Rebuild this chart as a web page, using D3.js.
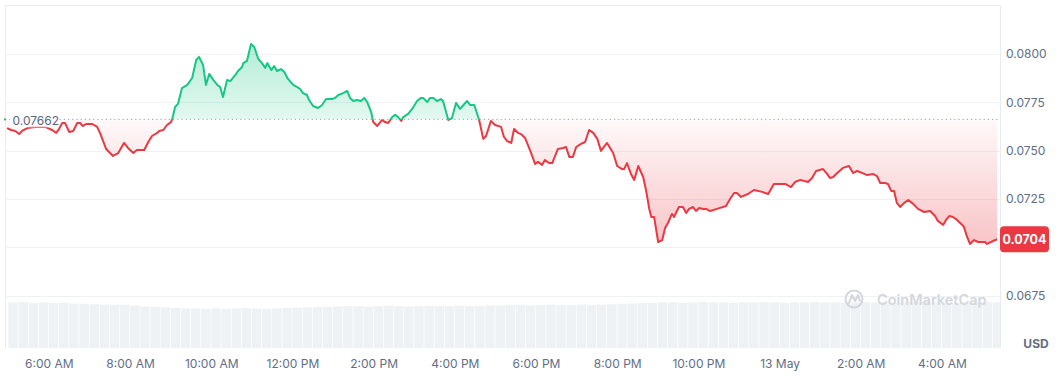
<!DOCTYPE html>
<html><head><meta charset="utf-8">
<script src="https://cdn.jsdelivr.net/npm/d3@7"></script>
<style>
body{margin:0;background:#fff;}
svg{display:block;font-family:Inter,"Noto Sans",sans-serif;}
</style>
</head><body>
<svg id="c" width="1057" height="381"></svg>
<script>
// ---- data (hours since 00:00 on 12 May; prices in USD) ----
const hours = [
 4.97,5.07,5.17,5.27,5.34,5.47,5.66,5.91,6.08,6.18,
 6.25,6.33,6.40,6.50,6.60,6.70,6.77,6.84,6.92,7.07,
 7.19,7.26,7.41,7.58,7.71,7.85,7.95,8.08,8.17,8.35,
 8.45,8.54,8.67,8.72,8.82,8.91,9.01,9.04,9.11,9.18,
 9.28,9.41,9.53,9.63,9.70,9.80,9.87,9.95,10.05,10.15,
 10.22,10.29,10.39,10.47,10.59,10.66,10.76,10.79,10.88,10.98,
 11.06,11.16,11.25,11.33,11.38,11.48,11.55,11.62,11.72,11.80,
 11.89,12.02,12.12,12.19,12.26,12.36,12.41,12.51,12.63,12.73,
 12.83,12.98,13.05,13.13,13.25,13.35,13.42,13.50,13.59,13.69,
 13.77,13.84,13.94,13.99,14.09,14.21,14.28,14.36,14.46,14.53,
 14.60,14.68,14.73,14.85,14.95,15.07,15.17,15.22,15.32,15.39,
 15.47,15.56,15.66,15.71,15.84,15.93,16.03,16.13,16.30,16.38,
 16.48,16.60,16.70,16.77,16.89,16.99,17.14,17.21,17.29,17.39,
 17.46,17.56,17.63,17.73,17.86,17.98,18.05,18.15,18.22,18.32,
 18.40,18.54,18.67,18.74,18.82,18.91,18.99,19.11,19.21,19.31,
 19.41,19.51,19.60,19.75,19.90,20.00,20.12,20.17,20.24,20.34,
 20.42,20.52,20.64,20.71,20.79,20.84,20.91,21.01,21.11,21.18,
 21.25,21.35,21.40,21.52,21.62,21.70,21.77,21.87,21.94,22.02,
 22.12,22.19,22.29,22.46,22.68,22.78,22.88,22.95,23.05,23.22,
 23.37,23.57,23.72,23.86,24.14,24.28,24.38,24.51,24.70,24.80,
 24.90,25.07,25.17,25.24,25.32,25.42,25.56,25.71,25.81,25.91,
 26.03,26.16,26.30,26.40,26.48,26.60,26.67,26.75,26.82,26.89,
 26.97,27.07,27.17,27.29,27.41,27.56,27.71,27.83,27.90,28.03,
 28.10,28.18,28.27,28.37,28.50,28.54,28.62,28.69,28.79,28.89,
 29.06,29.11,29.26,29.36
];
const prices = [
 0.07617,0.07607,0.07602,0.07586,0.07602,0.07617,0.07623,0.07623,0.07607,0.07592,
 0.07612,0.07643,0.07643,0.07597,0.07602,0.07643,0.07643,0.07628,0.07638,0.07638,
 0.07623,0.07592,0.07509,0.07473,0.07488,0.0754,0.07514,0.07488,0.07504,0.07504,
 0.07545,0.07576,0.07592,0.07602,0.07607,0.07633,0.07648,0.07664,0.07726,0.07742,
 0.07824,0.0784,0.07876,0.07969,0.07985,0.07943,0.0784,0.07897,0.07866,0.0784,
 0.07829,0.07778,0.07866,0.0786,0.07891,0.07912,0.07933,0.07953,0.07964,0.08052,
 0.08036,0.07974,0.07953,0.07928,0.07953,0.07917,0.07938,0.07912,0.07922,0.07907,
 0.07871,0.0784,0.07829,0.07819,0.07798,0.07788,0.07762,0.07731,0.07721,0.07736,
 0.07767,0.07767,0.07773,0.07788,0.07798,0.07809,0.07773,0.07757,0.07762,0.07757,
 0.07773,0.07752,0.077,0.07648,0.07628,0.07659,0.07648,0.07643,0.07674,0.07685,
 0.07674,0.07654,0.07674,0.0769,0.07716,0.07757,0.07773,0.07773,0.07752,0.07773,
 0.07773,0.07757,0.07767,0.07757,0.07659,0.07669,0.07747,0.07716,0.07757,0.07736,
 0.07736,0.07659,0.07561,0.07576,0.07654,0.07633,0.07623,0.07571,0.0755,0.0754,
 0.07612,0.07592,0.07586,0.07566,0.07499,0.07431,0.07442,0.07426,0.07452,0.07436,
 0.07436,0.07509,0.07514,0.07519,0.07468,0.07468,0.07519,0.07535,0.07545,0.07607,
 0.07592,0.07561,0.07499,0.0754,0.07488,0.07421,0.07405,0.07405,0.07436,0.0738,
 0.07349,0.07421,0.07364,0.07297,0.07199,0.07157,0.07157,0.07028,0.07038,0.071,
 0.07126,0.07173,0.07157,0.07209,0.07209,0.07178,0.07199,0.07209,0.07188,0.07204,
 0.07199,0.07199,0.07188,0.07199,0.07214,0.0725,0.07281,0.07281,0.07261,0.07276,
 0.07297,0.07287,0.07276,0.07328,0.07328,0.07312,0.07338,0.07349,0.07338,0.07359,
 0.07395,0.07405,0.0738,0.07359,0.07364,0.07385,0.07411,0.07421,0.07385,0.07395,
 0.07385,0.07374,0.0738,0.07369,0.07333,0.07333,0.07328,0.07292,0.07292,0.0723,
 0.07209,0.0723,0.07245,0.07225,0.07199,0.07183,0.07188,0.07162,0.07137,0.07116,
 0.07142,0.07162,0.07157,0.07142,0.07116,0.07106,0.07054,0.07018,0.07038,0.07028,
 0.07028,0.07018,0.07033,0.07042
];
const refPrice = 0.07662;
const refLabel = "0.07662";
const yTicks = [0.0675, 0.07, 0.0725, 0.075, 0.0775, 0.08];
const xTickHours = [6, 8, 10, 12, 14, 16, 18, 20, 22, 24, 26, 28];
const domainHours = [4.92, 29.43];
const volStartHour = 5, volStepHours = 0.25;
const volumes = [
 1.19,1.20,1.18,1.19,1.17,1.18,1.16,1.15,
 1.14,1.13,1.12,1.13,1.11,
 1.08,1.07,1.06,
 1.04,1.03,1.03,1.02,1.03,1.02,1.03,1.04,1.03,1.02,1.03,1.04,1.05,
 1.06,1.07,1.07,
 1.08,1.09,1.09,1.08,1.09,1.10,1.09,1.08,1.09,1.10,1.09,1.09,1.10,1.09,1.10,1.11,
 1.11,1.12,1.12,1.11,1.12,1.13,1.12,1.12,1.13,1.12,1.13,1.14,1.15,1.16,1.17,
 1.18,1.19,1.19,1.18,1.19,1.20,1.19,1.19,1.18,1.19,1.19,1.20,1.19,1.18,1.19,1.19,1.20,
 1.19,1.19,1.18,1.19,1.20,1.19,1.19,1.18,1.19,1.19,1.20,1.19,1.19,1.18,1.19,1.19,1.20,1.19
];
const volMax = 1.25;
const currency = "USD";
const watermark = "CoinMarketCap";

// ---- setup ----
const GREEN = "#16c784", RED = "#ea3943", GRID = "#eff2f5", TXT = "#616e85";
const plot = {l: 5, r: 1000, t: 5, b: 348};
const base = new Date(2024, 4, 12, 0, 0, 0);
const toDate = h => new Date(+base + h * 3600e3);

const svg = d3.select("#c");
const x = d3.scaleTime().domain(domainHours.map(toDate)).range([plot.l, plot.r]);
const y = d3.scaleLinear().domain([0.0675, 0.08]).range([295.75, 54]);
const yv = d3.scaleLinear().domain([0, volMax]).range([plot.b, 300]);

const data = hours.map((h, i) => ({t: toDate(h), p: prices[i]}));
const yRef = y(refPrice);

const defs = svg.append("defs");
defs.append("clipPath").attr("id", "plotClip").append("rect")
  .attr("x", plot.l).attr("y", plot.t).attr("width", plot.r - plot.l).attr("height", plot.b - plot.t);
defs.append("clipPath").attr("id", "above").append("rect")
  .attr("x", plot.l).attr("y", 0).attr("width", plot.r - plot.l).attr("height", yRef);
defs.append("clipPath").attr("id", "below").append("rect")
  .attr("x", plot.l).attr("y", yRef).attr("width", plot.r - plot.l).attr("height", 400);

const gG = defs.append("linearGradient").attr("id", "gGreen")
  .attr("gradientUnits", "userSpaceOnUse").attr("x1", 0).attr("x2", 0).attr("y1", y(0.0805)).attr("y2", yRef);
gG.append("stop").attr("offset", 0).attr("stop-color", GREEN).attr("stop-opacity", 0.32);
gG.append("stop").attr("offset", 1).attr("stop-color", GREEN).attr("stop-opacity", 0.12);
const gR = defs.append("linearGradient").attr("id", "gRed")
  .attr("gradientUnits", "userSpaceOnUse").attr("x1", 0).attr("x2", 0).attr("y1", yRef).attr("y2", y(0.0701));
gR.append("stop").attr("offset", 0).attr("stop-color", RED).attr("stop-opacity", 0.03);
gR.append("stop").attr("offset", 1).attr("stop-color", RED).attr("stop-opacity", 0.3);

// frame
svg.append("path").attr("fill", "none").attr("stroke", "#e8ebef").attr("stroke-width", 1)
  .attr("d", `M${plot.l + 0.5},${plot.b}V${plot.t + 0.5}H${plot.r + 0.5}V${plot.b}`);

// grid
svg.append("g").selectAll("line").data(yTicks).join("line")
  .attr("x1", plot.l).attr("x2", plot.r)
  .attr("y1", d => Math.round(y(d)) + 0.5).attr("y2", d => Math.round(y(d)) + 0.5)
  .attr("stroke", GRID);

// volume
svg.append("g").attr("clip-path", "url(#plotClip)").selectAll("rect").data(volumes).join("rect")
  .attr("x", (d, i) => x(toDate(volStartHour + i * volStepHours)))
  .attr("width", (d, i) => x(toDate(volStartHour + (i + 1) * volStepHours)) - x(toDate(volStartHour + i * volStepHours)) - 0.6)
  .attr("y", d => yv(d)).attr("height", d => plot.b - yv(d))
  .attr("fill", "#eff2f5");

// watermark
const wm = svg.append("g").attr("transform", "translate(854,299)");
wm.append("circle").attr("r", 8.5).attr("fill", "none").attr("stroke", "#d3d7dd").attr("stroke-width", 2);
wm.append("path").attr("d", "M-5,4 L-2,-4 L1,2 L4,-4 L6,2").attr("fill", "none")
  .attr("stroke", "#d3d7dd").attr("stroke-width", 2).attr("stroke-linejoin", "round").attr("stroke-linecap", "round");
svg.append("text").attr("x", 877).attr("y", 304.5).attr("font-size", 14.5).attr("font-weight", 600)
  .attr("fill", "#d3d7dd").text(watermark);

// areas + lines
const area = d3.area().x(d => x(d.t)).y0(yRef).y1(d => y(d.p));
const line = d3.line().x(d => x(d.t)).y(d => y(d.p));
svg.append("path").datum(data).attr("clip-path", "url(#above)").attr("d", area).attr("fill", "url(#gGreen)");
svg.append("path").datum(data).attr("clip-path", "url(#below)").attr("d", area).attr("fill", "url(#gRed)");

// reference dotted line
svg.append("line").attr("x1", plot.l).attr("x2", plot.r).attr("y1", yRef).attr("y2", yRef)
  .attr("stroke", "#9aa2ad").attr("stroke-width", 1).attr("stroke-dasharray", "1.2,3");

svg.append("path").datum(data).attr("clip-path", "url(#above)").attr("d", line)
  .attr("fill", "none").attr("stroke", GREEN).attr("stroke-width", 2).attr("stroke-linejoin", "round");
svg.append("path").datum(data).attr("clip-path", "url(#below)").attr("d", line)
  .attr("fill", "none").attr("stroke", RED).attr("stroke-width", 2).attr("stroke-linejoin", "round");

// reference label
svg.append("rect").attr("x", 10).attr("y", yRef - 7).attr("width", 49).attr("height", 15)
  .attr("fill", "#fff").attr("fill-opacity", 0.75);
svg.append("text").attr("x", 12.5).attr("y", yRef + 2).attr("dy", "0.32em")
  .attr("font-size", 12).attr("fill", "#58667e").text(refLabel);
svg.append("rect").attr("x", plot.l - 1).attr("y", yRef - 1).attr("width", 2).attr("height", 2).attr("fill", GREEN);

// y axis (right)
const yAxis = d3.axisRight(y).tickValues(yTicks).tickSize(0).tickPadding(6).tickFormat(d3.format(".4f"));
const ya = svg.append("g").attr("transform", `translate(${plot.r},0)`).call(yAxis);
ya.select(".domain").remove();
ya.selectAll("text").attr("font-size", 12).attr("fill", TXT).attr("font-family", "Inter, sans-serif");

// x axis
const fmt = d => d.getHours() === 0 ? d3.timeFormat("%-d %b")(d) : d3.timeFormat("%-I:%M %p")(d);
const xAxis = d3.axisBottom(x).tickValues(xTickHours.map(toDate)).tickSize(0).tickPadding(11).tickFormat(fmt);
const xa = svg.append("g").attr("transform", `translate(0,${plot.b})`).call(xAxis);
xa.select(".domain").remove();
xa.selectAll("text").attr("font-size", 12).attr("fill", TXT).attr("font-family", "Inter, sans-serif");

// currency
svg.append("text").attr("x", 1036).attr("y", 344).attr("dy", "0.35em").attr("text-anchor", "middle")
  .attr("font-size", 12).attr("font-weight", 700).attr("fill", TXT).text(currency);

// last price badge (covers the 0.0700 tick label, as in the reference)
const last = data[data.length - 1];
const yl = y(last.p);
svg.append("rect").attr("x", plot.r).attr("y", yl - 13).attr("width", 49).attr("height", 26).attr("rx", 4).attr("fill", RED);
svg.append("text").attr("x", plot.r + 24.5).attr("y", yl).attr("dy", "0.35em").attr("text-anchor", "middle")
  .attr("font-size", 12.5).attr("font-weight", 700).attr("fill", "#fff").text(d3.format(".4f")(last.p));
</script>
</body></html>
